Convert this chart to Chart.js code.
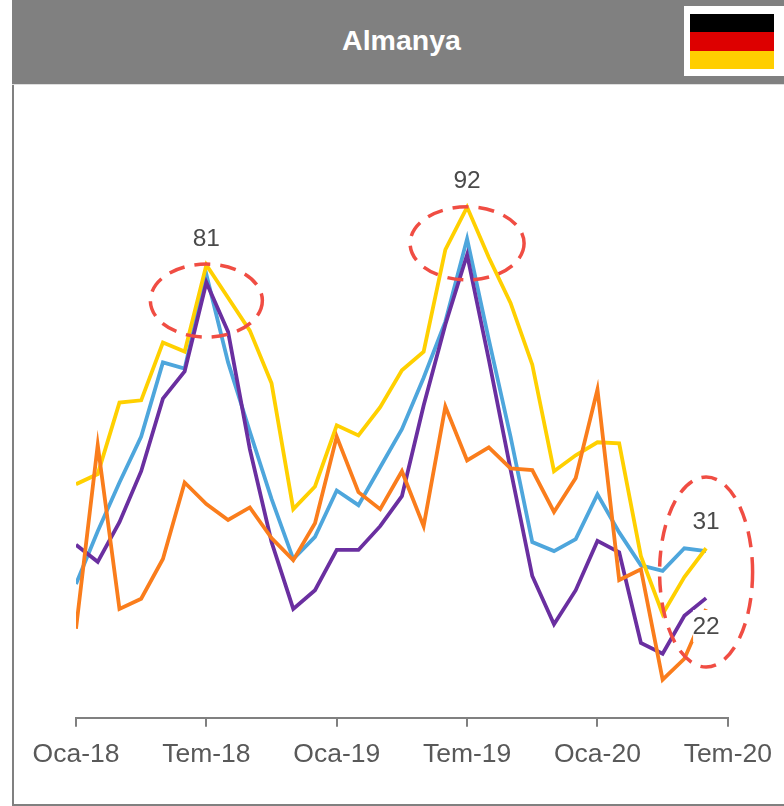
<!DOCTYPE html>
<html lang="tr">
<head>
<meta charset="utf-8">
<title>Almanya</title>
<script src="https://cdn.jsdelivr.net/npm/chart.js@4"></script>
<style>
    html, body { margin: 0; padding: 0; background: #fff; }
    body { position: relative; width: 784px; height: 806px; overflow: hidden; font-family: "Liberation Sans", Arial, sans-serif; }
    #frame { position: absolute; left: 12px; top: 0; width: 772px; height: 804px; border-left: 2px solid #808080; border-bottom: 2px solid #808080; box-sizing: content-box; }
    #header { position: absolute; left: 12px; top: 0; width: 772px; height: 84px; background: #808080; border-bottom: 1px solid #dedede; }
    #title { position: absolute; left: 330px; top: 0; width: 119px; line-height: 80px; text-align: center; color: #fff; font-weight: bold; font-size: 28.5px; }
    #flag { position: absolute; left: 672px; top: 6px; width: 100px; height: 70px; background: #fff; }
    #flag div { position: absolute; left: 6px; width: 84px; }
    #chart { position: absolute; left: 0; top: 0; }
</style>
</head>
<body>
<canvas id="chart" width="784" height="806"></canvas>
<div id="frame"></div>
<div id="header">
    <div id="title">Almanya</div>
    <div id="flag">
        <div style="top:8px;height:18px;background:#000"></div>
        <div style="top:26px;height:18.5px;background:#dd0000"></div>
        <div style="top:44.5px;height:18.5px;background:#ffce00"></div>
    </div>
</div>
<script>
// --- ДАННЫЕ ---
const categories = [
    'Oca-18', 'Şub-18', 'Mar-18', 'Nis-18', 'May-18', 'Haz-18', 'Tem-18', 'Ağu-18', 'Eyl-18', 'Eki-18', 'Kas-18', 'Ara-18',
    'Oca-19', 'Şub-19', 'Mar-19', 'Nis-19', 'May-19', 'Haz-19', 'Tem-19', 'Ağu-19', 'Eyl-19', 'Eki-19', 'Kas-19', 'Ara-19',
    'Oca-20', 'Şub-20', 'Mar-20', 'Nis-20', 'May-20', 'Haz-20', 'Tem-20'
];
const tickLabels = ['Oca-18', 'Tem-18', 'Oca-19', 'Tem-19', 'Oca-20', 'Tem-20'];

const yellowValues = [42.2, 44.0, 56.6, 57.0, 67.2, 65.6, 80.9, 75.1, 69.3, 60.0, 37.8, 41.8, 52.6, 50.8, 55.8, 62.3, 65.6, 83.6, 91.1, 82.2, 74.2, 63.3, 44.5, 47.3, 49.6, 49.4, 29.5, 19.3, 25.8, 30.9];
const blueValues = [24.6, 33.9, 42.5, 50.6, 63.7, 62.6, 79.2, 63.7, 51.5, 39.6, 29.0, 32.9, 41.1, 38.5, 45.2, 51.9, 61.0, 70.9, 85.5, 67.7, 50.6, 32.0, 30.4, 32.5, 40.4, 33.7, 27.9, 26.9, 30.9, 30.4];
const purpleValues = [31.5, 28.5, 35.5, 44.5, 57.3, 62.1, 77.8, 69.1, 48.4, 32.0, 20.2, 23.5, 30.6, 30.6, 34.8, 40.1, 56.1, 70.4, 82.7, 64.2, 44.8, 26.0, 17.5, 23.5, 32.2, 30.2, 14.2, 12.3, 19.0, 22.1];
const orangeValues = [16.7, 49.1, 20.2, 22.0, 29.0, 42.5, 38.7, 35.9, 38.1, 32.7, 28.8, 35.3, 50.6, 40.8, 37.8, 44.5, 34.8, 55.9, 46.4, 48.7, 45.0, 44.7, 37.3, 43.3, 58.9, 25.3, 27.2, 7.7, 11.4, 20.2];

// Подписи: текст, индекс месяца, значение по оси
const calloutTexts = ['81', '92', '31', '22'];
const calloutIndexes = [6, 18, 29, 29];
const calloutValues = [85.5, 95.7, 35.5, 17.0];

// Красные овалы: центр по шкалам, радиусы в пикселях
const ovalIndexes = [6, 18, 29];
const ovalValues = [74.6, 84.7, 26.7];
const ovalRadiusX = [56, 57, 46.5];
const ovalRadiusY = [36.5, 36.5, 95];

const fontName = '"Liberation Sans", Arial, sans-serif';

// --- ОВАЛЫ И ПОДПИСИ ---
const calloutPlugin = {
    id: 'callouts',
    afterDatasetsDraw(chart) {
        const ctx = chart.ctx;
        const xs = chart.scales.x;
        const ys = chart.scales.y;

        ctx.save();
        ctx.strokeStyle = '#f04d43';
        ctx.lineWidth = 3.5;
        ctx.setLineDash([16, 10]);
        ovalIndexes.forEach((idx, i) => {
            ctx.beginPath();
            ctx.ellipse(xs.getPixelForValue(idx), ys.getPixelForValue(ovalValues[i]), ovalRadiusX[i], ovalRadiusY[i], 0, 0, Math.PI * 2);
            ctx.stroke();
        });
        ctx.setLineDash([]);

        ctx.font = '24.5px ' + fontName;
        ctx.textAlign = 'center';
        ctx.textBaseline = 'middle';
        calloutTexts.forEach((text, i) => {
            const x = xs.getPixelForValue(calloutIndexes[i]);
            const y = ys.getPixelForValue(calloutValues[i]);
            // Подпись 22 лежит на белой плашке поверх линий
            if (text === '22') {
                ctx.fillStyle = '#fff';
                ctx.fillRect(x - 13, y - 17, 30, 32);
            }
            ctx.fillStyle = '#4a4a4a';
            ctx.fillText(text, x, y);
        });
        ctx.restore();
    }
};

// --- ГРАФИК ---
new Chart(document.getElementById('chart').getContext('2d'), {
    type: 'line',
    data: {
        labels: categories,
        datasets: [
            { data: orangeValues, borderColor: '#fa7d1c' },
            { data: yellowValues, borderColor: '#ffd000' },
            { data: purpleValues, borderColor: '#6a2fa0' },
            { data: blueValues, borderColor: '#4ea6dc' }
        ].map(d => ({ ...d, borderWidth: 3.8, pointRadius: 0, tension: 0, clip: 0, borderJoinStyle: 'miter', fill: false }))
    },
    options: {
        responsive: false,
        animation: false,
        layout: { padding: { left: 76, right: 55.5, top: 100, bottom: 23.5 } },
        plugins: { legend: { display: false }, tooltip: { enabled: false }, title: { display: false } },
        scales: {
            x: {
                type: 'category',
                offset: false,
                afterBuildTicks: scale => {
                    scale.ticks = scale.ticks.filter(t => tickLabels.includes(categories[t.value]));
                },
                border: { color: '#808080', width: 2 },
                grid: { display: true, drawOnChartArea: false, drawTicks: true, tickLength: 9, color: '#808080', lineWidth: 2 },
                ticks: {
                    autoSkip: false,
                    maxRotation: 0,
                    minRotation: 0,
                    padding: 12,
                    color: '#595959',
                    font: { family: fontName, size: 26.5 },
                    callback(value) { return categories[value]; }
                }
            },
            y: { display: false, min: 1, max: 110 }
        }
    },
    plugins: [calloutPlugin]
});
</script>
</body>
</html>
